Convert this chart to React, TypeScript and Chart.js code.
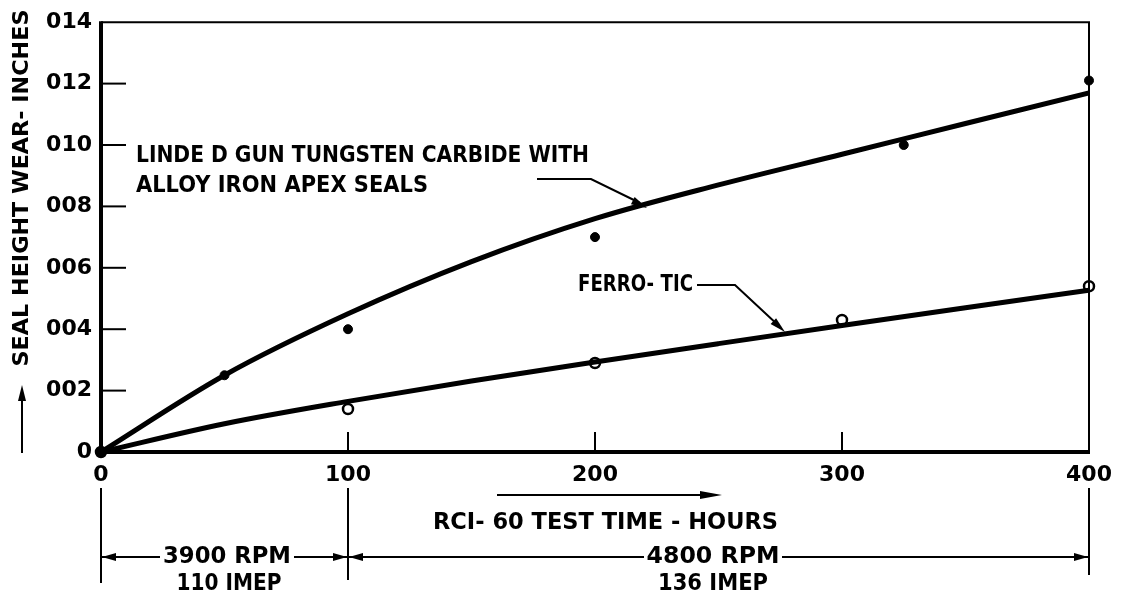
import React, { useEffect, useRef } from "react";
import { Chart, registerables } from "chart.js";

Chart.register(...registerables);

// ---------- data ----------
const lindeHours = [0, 50, 100, 200, 325, 400];
const lindeWear = [0, 0.0025, 0.004, 0.007, 0.01, 0.0121];

const ferroHours = [0, 100, 200, 300, 400];
const ferroWear = [0, 0.0014, 0.0029, 0.0043, 0.0054];

const curveHours = [0, 50, 100, 150, 200, 250, 300, 350, 400];
const lindeCurve = [0, 0.0025, 0.0045, 0.0062, 0.0076, 0.0087, 0.0097, 0.0107, 0.0117];
const ferroCurve = [0, 0.00092, 0.00165, 0.00231, 0.00293, 0.00353, 0.00412, 0.0047, 0.00527];

const xTickLabels = ["0", "100", "200", "300", "400"];
const yTickLabels = ["0", "002", "004", "006", "008", "010", "012", "014"];

const yTitle = "SEAL HEIGHT WEAR- INCHES";
const xTitle = "RCI- 60 TEST TIME - HOURS";
const lindeLabel1 = "LINDE D GUN TUNGSTEN CARBIDE WITH";
const lindeLabel2 = "ALLOY IRON APEX SEALS";
const ferroLabel = "FERRO- TIC";
const phase1 = ["3900 RPM", "110 IMEP"];
const phase2 = ["4800 RPM", "136 IMEP"];

const FONT = '"DejaVu Sans", sans-serif';

function toXY(xs: number[], ys: number[]) {
  return xs.map((x, i) => ({ x, y: ys[i] }));
}

function drawText(
  ctx: CanvasRenderingContext2D,
  text: string,
  x: number,
  y: number,
  size: number,
  width: number | null,
  align: CanvasTextAlign = "left"
) {
  ctx.save();
  ctx.font = `bold ${size}px ${FONT}`;
  const w = ctx.measureText(text).width;
  const sx = width ? width / w : 1;
  ctx.translate(x, y);
  ctx.scale(sx, 1);
  ctx.textAlign = align;
  ctx.textBaseline = "middle";
  ctx.fillStyle = "#000";
  ctx.fillText(text, 0, 0);
  ctx.restore();
}

function arrowHead(
  ctx: CanvasRenderingContext2D,
  fx: number,
  fy: number,
  tx: number,
  ty: number,
  len = 14,
  half = 4
) {
  const a = Math.atan2(ty - fy, tx - fx);
  ctx.save();
  ctx.fillStyle = "#000";
  ctx.beginPath();
  ctx.moveTo(tx, ty);
  ctx.lineTo(tx - len * Math.cos(a) + half * Math.sin(a), ty - len * Math.sin(a) - half * Math.cos(a));
  ctx.lineTo(tx - len * Math.cos(a) - half * Math.sin(a), ty - len * Math.sin(a) + half * Math.cos(a));
  ctx.closePath();
  ctx.fill();
  ctx.restore();
}

function line(ctx: CanvasRenderingContext2D, pts: number[][], w = 2) {
  ctx.save();
  ctx.strokeStyle = "#000";
  ctx.lineWidth = w;
  ctx.beginPath();
  pts.forEach((p, i) => (i === 0 ? ctx.moveTo(p[0], p[1]) : ctx.lineTo(p[0], p[1])));
  ctx.stroke();
  ctx.restore();
}

const decorPlugin = {
  id: "decor",
  afterDraw(chart: any) {
    const ctx: CanvasRenderingContext2D = chart.ctx;
    const xs = chart.scales.x;
    const ys = chart.scales.y;
    const L = xs.getPixelForValue(0);
    const R = xs.getPixelForValue(400);
    const T = ys.getPixelForValue(0.014);
    const B = ys.getPixelForValue(0);

    // thin frame top & right
    line(ctx, [[L, T], [R, T], [R, B]], 2);
    // thick axes left & bottom
    line(ctx, [[L, T - 1], [L, B], [R + 1, B]], 4);

    // inward ticks
    ys.ticks.forEach((t: any, i: number) => {
      if (i === 0 || i === ys.ticks.length - 1) return;
      const y = ys.getPixelForValue(t.value);
      line(ctx, [[L, y], [L + 25, y]], 2);
    });
    xs.ticks.forEach((t: any, i: number) => {
      if (i === 0 || i === xs.ticks.length - 1) return;
      const x = xs.getPixelForValue(t.value);
      line(ctx, [[x, B], [x, B - 20]], 2);
    });

    // y-axis title with arrow
    ctx.save();
    ctx.translate(22, 188);
    ctx.rotate(-Math.PI / 2);
    drawText(ctx, yTitle, 0, 0, 22, 357, "center");
    ctx.restore();
    line(ctx, [[22, 453], [22, 395]], 2);
    arrowHead(ctx, 22, 453, 22, 385, 16, 4);

    // annotations
    drawText(ctx, lindeLabel1, 136, 156, 23, 453, "left");
    drawText(ctx, lindeLabel2, 136, 186, 23, 292, "left");
    line(ctx, [[537, 179], [591, 179], [640, 203]], 2);
    arrowHead(ctx, 591, 179, 647, 208, 16, 4);

    drawText(ctx, ferroLabel, 578, 285, 23, 115, "left");
    line(ctx, [[697, 285], [735, 285], [779, 326]], 2);
    arrowHead(ctx, 735, 285, 785, 332, 16, 4);

    // x-axis title with arrow
    line(ctx, [[497, 495], [705, 495]], 2);
    arrowHead(ctx, 497, 495, 722, 495, 22, 4);
    drawText(ctx, xTitle, 433, 523, 23, 345, "left");

    // dimension lines
    const x100 = xs.getPixelForValue(100);
    line(ctx, [[L, 488], [L, 583]], 2);
    line(ctx, [[x100, 488], [x100, 580]], 2);
    line(ctx, [[R, 488], [R, 575]], 2);
    const dy = 557;
    line(ctx, [[L, dy], [160, dy]], 2);
    arrowHead(ctx, 160, dy, L + 1, dy, 14, 4);
    line(ctx, [[294, dy], [x100, dy]], 2);
    arrowHead(ctx, 294, dy, x100 - 1, dy, 14, 4);
    line(ctx, [[x100, dy], [644, dy]], 2);
    arrowHead(ctx, 644, dy, x100 + 1, dy, 14, 4);
    line(ctx, [[782, dy], [R, dy]], 2);
    arrowHead(ctx, 782, dy, R - 1, dy, 14, 4);

    drawText(ctx, phase1[0], 227, dy, 23, 128, "center");
    drawText(ctx, phase1[1], 229, 584, 23, 105, "center");
    drawText(ctx, phase2[0], 713, dy, 23, 133, "center");
    drawText(ctx, phase2[1], 713, 584, 23, 110, "center");
  },
};

export default function App() {
  const ref = useRef<HTMLCanvasElement | null>(null);

  useEffect(() => {
    if (!ref.current) return;
    const chart = new Chart(ref.current, {
      type: "scatter",
      data: {
        datasets: [
          {
            type: "line",
            label: "Linde curve",
            data: toXY(curveHours, lindeCurve),
            borderColor: "#000",
            borderWidth: 5,
            pointRadius: 0,
            cubicInterpolationMode: "monotone",
            fill: false,
          } as any,
          {
            type: "line",
            label: "Ferro curve",
            data: toXY(curveHours, ferroCurve),
            borderColor: "#000",
            borderWidth: 5,
            pointRadius: 0,
            cubicInterpolationMode: "monotone",
            fill: false,
          } as any,
          {
            label: "Linde D Gun tungsten carbide",
            data: toXY(lindeHours, lindeWear),
            backgroundColor: "#000",
            borderColor: "#000",
            pointRadius: 4.5,
            showLine: false,
            clip: false,
          } as any,
          {
            label: "Ferro-TiC",
            data: toXY(ferroHours, ferroWear),
            backgroundColor: "#fff",
            borderColor: "#000",
            borderWidth: 2.5,
            pointRadius: 5,
            showLine: false,
            clip: false,
          } as any,
        ],
      },
      options: {
        animation: false,
        responsive: false,
        events: [],
        layout: { padding: { top: 20, right: 34, left: 0, bottom: 0 } },
        plugins: { legend: { display: false }, tooltip: { enabled: false } },
        scales: {
          x: {
            type: "linear",
            min: 0,
            max: 400,
            grid: { display: false, drawTicks: false },
            border: { display: false },
            afterFit: (s: any) => {
              s.height = 146;
            },
            ticks: {
              stepSize: 100,
              padding: 10,
              color: "#000",
              font: { family: FONT, size: 22, weight: "bold" },
              callback: (_v: any, i: number) => xTickLabels[i],
              maxRotation: 0,
            },
          },
          y: {
            type: "linear",
            min: 0,
            max: 0.014,
            grid: { display: false, drawTicks: false },
            border: { display: false },
            afterFit: (s: any) => {
              s.width = 101;
            },
            ticks: {
              stepSize: 0.002,
              padding: 9,
              color: "#000",
              font: { family: FONT, size: 22, weight: "bold" },
              callback: (_v: any, i: number) => yTickLabels[i],
            },
          },
        },
      } as any,
      plugins: [decorPlugin],
    });
    return () => chart.destroy();
  }, []);

  return (
    <div style={{ position: "absolute", left: 0, top: 0, width: 1123, height: 598, background: "#fff" }}>
      <canvas ref={ref} width={1123} height={598} style={{ display: "block" }} />
    </div>
  );
}
